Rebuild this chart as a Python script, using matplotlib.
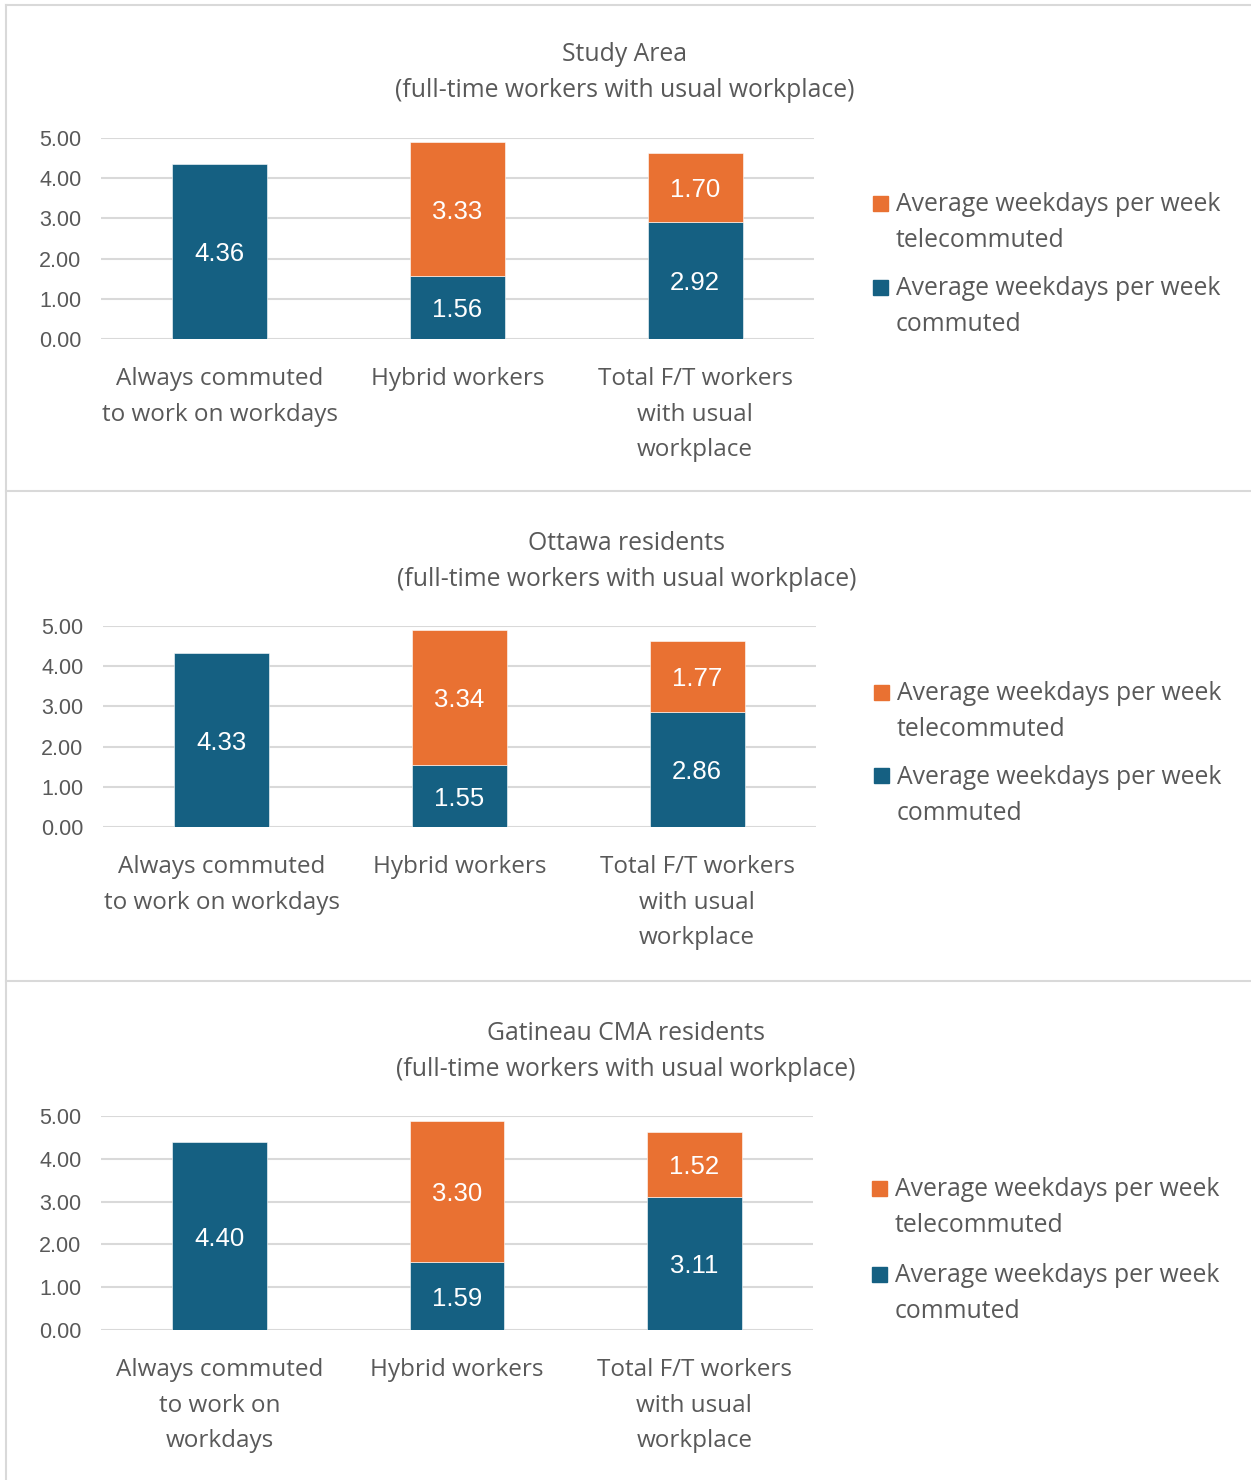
import numpy as np
import matplotlib
matplotlib.use('Agg')
import matplotlib.pyplot as plt
from matplotlib.lines import Line2D
from matplotlib.patches import Rectangle

# Average weekdays per week, full-time workers with a usual workplace
panel_titles = [
    'Study Area\n(full-time workers with usual workplace)',
    'Ottawa residents\n(full-time workers with usual workplace)',
    'Gatineau CMA residents\n(full-time workers with usual workplace)',
]
categories = [
    ['Always commuted\nto work on workdays', 'Hybrid workers', 'Total F/T workers\nwith usual\nworkplace'],
    ['Always commuted\nto work on workdays', 'Hybrid workers', 'Total F/T workers\nwith usual\nworkplace'],
    ['Always commuted\nto work on\nworkdays', 'Hybrid workers', 'Total F/T workers\nwith usual\nworkplace'],
]
commuted = [
    [4.36, 1.56, 2.92],
    [4.33, 1.55, 2.86],
    [4.40, 1.59, 3.11],
]
telecommuted = [
    [0.00, 3.33, 1.70],
    [0.00, 3.34, 1.77],
    [0.00, 3.30, 1.52],
]
series_names = ['Average weekdays per week\ntelecommuted',
                'Average weekdays per week\ncommuted']
y_ticks = [0, 1, 2, 3, 4, 5]

BLUE = '#156082'
ORANGE = '#E97132'
TEXT = '#595959'
GRID = '#D9D9D9'
LABEL_FONT = 'Open Sans'
NUM_FONT = 'Liberation Sans'

W, H = 1251, 1480
fig = plt.figure(figsize=(W / 100, H / 100), dpi=100)

def fx(x):
    return x / W

def fy(y):
    return 1 - y / H

# plot-area boxes (left, top, right, bottom) in pixels, plus title/legend anchors
boxes = [(101, 138, 814, 339), (103, 626, 816, 827), (101, 1116, 813, 1330)]
title_pos = [(625, 72.5), (627, 561.5), (626, 1051.5)]
legend_pos = [(873, 203, 84), (874, 692, 84), (872, 1188, 86)]

def value_label(ax, xc, yc, v):
    ax.annotate(f'{v:.2f}', xy=(xc, yc), xytext=(0, -2), textcoords='offset points',
                ha='center', va='center', color='white', fontsize=18.5,
                family=NUM_FONT, zorder=4)

for i in range(3):
    l, t, r, b = boxes[i]
    ax = fig.add_axes([fx(l), fy(b), (r - l) / W, (b - t) / H])
    x = np.arange(len(categories[i]))
    com = np.array(commuted[i])
    tele = np.array(telecommuted[i])

    bars_c = ax.bar(x, com, 0.4, color=BLUE, edgecolor='white', linewidth=0.4, zorder=3)
    mask = tele > 0
    bars_t = ax.bar(x[mask], tele[mask], 0.4, bottom=com[mask], color=ORANGE,
                    edgecolor='white', linewidth=0.4, zorder=3)

    for rect, v in zip(bars_c, com):
        value_label(ax, rect.get_x() + rect.get_width() / 2, v / 2, v)
    for rect, v, base in zip(bars_t, tele[mask], com[mask]):
        value_label(ax, rect.get_x() + rect.get_width() / 2, base + v / 2, v)

    ax.set_xlim(-0.5, 2.5)
    ax.set_ylim(0, 5)
    ax.set_yticks(y_ticks)
    ax.set_yticklabels([f'{v:.2f}' for v in y_ticks], family=NUM_FONT,
                       fontsize=15.5, color=TEXT)
    ax.set_xticks(x)
    ax.set_xticklabels(categories[i], family=LABEL_FONT, fontsize=17.5,
                       color=TEXT, linespacing=1.63, va='top')
    ax.tick_params(axis='y', length=0, pad=14)
    ax.tick_params(axis='x', length=0, pad=20.5)
    ax.grid(axis='y', color=GRID, linewidth=1.5, zorder=0)
    for s in ax.spines.values():
        s.set_visible(False)

    tx, ty = title_pos[i]
    fig.text(fx(tx), fy(ty), panel_titles[i], ha='center', va='center',
             family=LABEL_FONT, fontsize=17.8, color=TEXT, linespacing=1.55)

    # legend: square marker next to the first line of each entry
    lx, ly, step = legend_pos[i]
    for k, (name, col) in enumerate(zip(series_names, [ORANGE, BLUE])):
        yy = ly + k * step
        fig.add_artist(Rectangle((fx(lx), fy(yy + 7.5)), 15 / W, 15 / H,
                                 transform=fig.transFigure, color=col))
        fig.text(fx(lx + 23), fy(yy + 19.5), name, ha='left', va='center',
                 family=LABEL_FONT, fontsize=17.8, color=TEXT, linespacing=1.55)

# panel frame lines
for yy in [5, 491, 981]:
    fig.add_artist(Line2D([fx(6), fx(W)], [fy(yy), fy(yy)], color=GRID, linewidth=1.5))
fig.add_artist(Line2D([fx(6), fx(6)], [fy(5), fy(H)], color=GRID, linewidth=1.5))

fig.savefig('out.png', dpi=100, facecolor='white')
